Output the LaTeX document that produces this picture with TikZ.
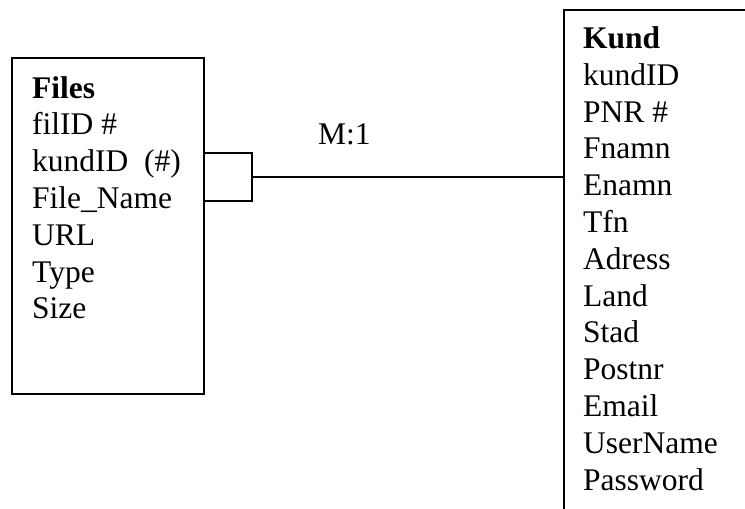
\documentclass[tikz,border=0pt]{standalone}
\usepackage{fontspec}
\setmainfont{Liberation Serif}
\begin{document}
\begin{tikzpicture}[x=1pt,y=-1pt,
  entity/.style={draw, line width=1.8pt, rectangle, inner sep=0pt, anchor=north west},
  field/.style={anchor=base west, inner sep=0pt, font=\fontsize{31.5}{36.8}\selectfont},
  link/.style={draw, line width=1.8pt}]
  \useasboundingbox (0,0) rectangle (745,509);
  \clip (0,0) rectangle (745,509);

  % entity boxes
  \node[entity, minimum width=192pt, minimum height=336pt] (files) at (11,57) {};
  \node[entity, minimum width=240pt, minimum height=540pt] (kund) at (563,9) {};

  % Files attributes
  \foreach \t [count=\i] in {\textbf{Files}, filID \#, kundID~~(\#), File\_Name, URL, Type, Size}
    \node[field] (f\i) at (32, {98+(\i-1)*36.8}) {\t};

  % Kund attributes
  \foreach \t [count=\i] in {\textbf{Kund}, kundID, PNR \#, Fnamn, Enamn, Tfn, Adress, Land, Stad, Postnr, Email, UserName, Password}
    \node[field] (k\i) at (583, {48.5+(\i-1)*36.8}) {\t};

  % many-to-one relationship
  \coordinate (ja) at (252,153);
  \coordinate (jb) at (252,201);
  \coordinate (jm) at (252,177);
  \draw[link] (files.east |- ja) -- (ja) -- (jb) -- (files.east |- jb);
  \draw[link] (jm) -- (kund.west |- jm);
  \node[field] (card) at (318,144) {M:1};
\end{tikzpicture}
\end{document}
